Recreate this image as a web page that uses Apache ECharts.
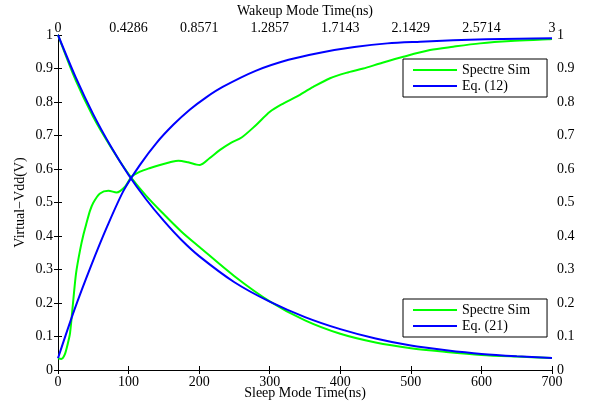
<!DOCTYPE html>
<html>
<head>
<meta charset="utf-8">
<script src="https://cdn.jsdelivr.net/npm/echarts@6/dist/echarts.min.js"></script>
<style>
html,body{margin:0;padding:0;background:#fff;}
#chart{width:590px;height:402px;}
</style>
</head>
<body>
<div id="chart"></div>
<script>
// Sleep mode (bottom axis, ns)
var sleepTime = [0, 25, 50, 75, 100, 125, 150, 175, 200, 250, 300, 350, 400, 450, 500, 550, 600, 650, 700];
var sleepSim  = [1.0, 0.865, 0.755, 0.665, 0.585, 0.52, 0.465, 0.413, 0.368, 0.28, 0.205, 0.148, 0.108, 0.082, 0.065, 0.054, 0.045, 0.04, 0.036];
var sleepEq21 = [1.0, 0.874, 0.763, 0.667, 0.582, 0.509, 0.445, 0.388, 0.34, 0.262, 0.204, 0.158, 0.122, 0.094, 0.073, 0.059, 0.048, 0.041, 0.036];

// Wakeup mode (top axis, ns)
var wakeSimTime = [0, 0.02, 0.04, 0.06, 0.073, 0.093, 0.11, 0.134, 0.155, 0.174, 0.194, 0.215, 0.255, 0.306, 0.356, 0.407, 0.447, 0.498, 0.56, 0.619, 0.68, 0.731, 0.79, 0.842, 0.862, 0.92, 0.984, 1.05, 1.115, 1.2, 1.287, 1.37, 1.449, 1.55, 1.652, 1.75, 1.854, 1.955, 2.097, 2.259, 2.4, 2.563, 2.75, 2.976, 3.0];
var wakeSim     = [0.035, 0.033, 0.045, 0.08, 0.11, 0.209, 0.29, 0.358, 0.405, 0.44, 0.475, 0.5, 0.527, 0.535, 0.53, 0.547, 0.577, 0.592, 0.603, 0.612, 0.62, 0.625, 0.62, 0.613, 0.612, 0.632, 0.657, 0.678, 0.694, 0.73, 0.771, 0.796, 0.816, 0.845, 0.871, 0.887, 0.9, 0.915, 0.935, 0.955, 0.965, 0.975, 0.982, 0.987, 0.988];
var wakeEqTime  = [0, 0.1, 0.2, 0.3, 0.4, 0.5, 0.6, 0.7, 0.8, 0.9, 1.0, 1.2, 1.4, 1.6, 1.8, 2.0, 2.2, 2.4, 2.6, 2.8, 3.0];
var wakeEq12    = [0.035, 0.18, 0.31, 0.43, 0.537, 0.614, 0.679, 0.732, 0.777, 0.814, 0.845, 0.893, 0.926, 0.948, 0.964, 0.975, 0.98, 0.984, 0.987, 0.989, 0.99];

// Tick labels
var topTickValues = [0, 3/7, 6/7, 9/7, 12/7, 15/7, 18/7, 3];
var topTickLabels = ['0', '0.4286', '0.8571', '1.2857', '1.7143', '2.1429', '2.5714', '3'];

function zip(a, b) { return a.map(function (v, i) { return [v, b[i]]; }); }

var FONT = 'Liberation Serif';
var txt = { color: '#000', fontFamily: FONT, fontSize: 14 };
var axLine = { show: true, lineStyle: { color: '#000', width: 1 } };
var tick = { show: true, inside: true, length: 4, lineStyle: { color: '#000', width: 1 } };

function yLabel(v) {
  return (Math.round(v * 10) / 10).toString();
}

var legendBase = {
  orient: 'vertical', left: 403,
  icon: 'rect', itemWidth: 44, itemHeight: 2, itemGap: 2,
  padding: [4, 17, 4, 10],
  backgroundColor: '#fff', borderColor: '#000', borderWidth: 1,
  textStyle: Object.assign({ lineHeight: 13, padding: [0, 0, 0, 0] }, txt),
  selectedMode: false
};

var chart = echarts.init(document.getElementById('chart'), null, { renderer: 'canvas' });
chart.setOption({
  animation: false,
  backgroundColor: '#fff',
  grid: { left: 58, right: 38, top: 35, bottom: 32, containLabel: false, outerBoundsMode: 'none' },
  xAxis: [
    {
      type: 'value', position: 'bottom', min: 0, max: 700, interval: 100,
      axisLine: axLine, axisTick: tick, splitLine: { show: false },
      axisLabel: Object.assign({ margin: 5 }, txt),
      name: 'Sleep Mode Time(ns)', nameLocation: 'middle', nameGap: 16,
      nameMoveOverlap: false,
      nameTextStyle: txt
    },
    {
      type: 'value', position: 'top', min: 0, max: 3,
      axisLine: axLine,
      axisTick: Object.assign({ customValues: topTickValues }, tick),
      splitLine: { show: false },
      axisLabel: Object.assign({
        margin: 0,
        customValues: topTickValues,
        formatter: function (v) {
          var best = 0, d = 1e9;
          topTickValues.forEach(function (t, i) { if (Math.abs(t - v) < d) { d = Math.abs(t - v); best = i; } });
          return topTickLabels[best];
        }
      }, txt),
      name: 'Wakeup Mode Time(ns)', nameLocation: 'middle', nameGap: 17,
      nameMoveOverlap: false,
      nameTextStyle: txt
    }
  ],
  yAxis: [
    {
      type: 'value', position: 'left', min: 0, max: 1, interval: 0.1,
      axisLine: axLine, axisTick: tick, splitLine: { show: false },
      axisLabel: Object.assign({ margin: 5, formatter: yLabel }, txt),
      name: 'Virtual\u2212Vdd(V)', nameLocation: 'middle', nameGap: 31,
      nameMoveOverlap: false,
      nameTextStyle: txt
    },
    {
      type: 'value', position: 'right', min: 0, max: 1, interval: 0.1,
      axisLine: axLine, axisTick: tick, splitLine: { show: false },
      axisLabel: Object.assign({ margin: 5, formatter: yLabel }, txt)
    }
  ],
  legend: [
    Object.assign({ top: 59, data: ['Spectre Sim', 'Eq. (12)'] }, legendBase),
    Object.assign({ top: 299, data: ['Spectre Sim', 'Eq. (21)'] }, legendBase)
  ],
  series: [
    {
      name: 'Spectre Sim', type: 'line', xAxisIndex: 0, yAxisIndex: 0,
      data: zip(sleepTime, sleepSim), symbol: 'none', smooth: 0.3,
      lineStyle: { color: '#00ff00', width: 2 }, itemStyle: { color: '#00ff00' }
    },
    {
      name: 'Spectre Sim', type: 'line', xAxisIndex: 1, yAxisIndex: 0,
      data: zip(wakeSimTime, wakeSim), symbol: 'none', smooth: 0.3,
      lineStyle: { color: '#00ff00', width: 2 }, itemStyle: { color: '#00ff00' }
    },
    {
      name: 'Eq. (21)', type: 'line', xAxisIndex: 0, yAxisIndex: 0,
      data: zip(sleepTime, sleepEq21), symbol: 'none', smooth: 0.3,
      lineStyle: { color: '#0000ff', width: 2 }, itemStyle: { color: '#0000ff' }
    },
    {
      name: 'Eq. (12)', type: 'line', xAxisIndex: 1, yAxisIndex: 0,
      data: zip(wakeEqTime, wakeEq12), symbol: 'none', smooth: 0.3,
      lineStyle: { color: '#0000ff', width: 2 }, itemStyle: { color: '#0000ff' }
    }
  ]
});
</script>
</body>
</html>
